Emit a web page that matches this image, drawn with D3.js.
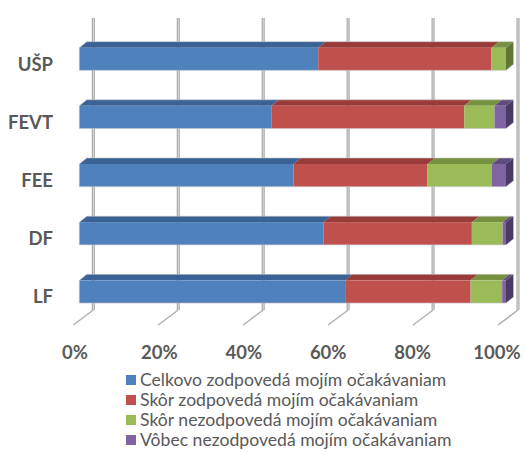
<!DOCTYPE html>
<html><head><meta charset="utf-8">
<script src="https://cdn.jsdelivr.net/npm/d3@7"></script>
<style>body{margin:0;background:#fff}svg{display:block}</style>
</head><body>
<svg id="c" width="525" height="453"></svg>
<script>
const categories = ["UŠP","FEVT","FEE","DF","LF"];
const seriesNames = ["Celkovo zodpovedá mojím očakávaniam","Skôr zodpovedá mojím očakávaniam","Skôr nezodpovedá mojím očakávaniam","Vôbec nezodpovedá mojím očakávaniam"];
const celkovo = [56, 45, 50.2, 57.2, 62.3];
const skorZod = [40.6, 45.2, 31.4, 34.8, 29.4];
const skorNez = [3.4, 7.1, 15.1, 7.2, 7.4];
const vobec  = [0, 2.7, 3.3, 0.8, 0.9];
const tickLabels = ["0%","20%","40%","60%","80%","100%"];
const tickValues = [0,20,40,60,80,100];

const front = ["#4f81bd","#c0504d","#9bbb59","#8064a2"];
const top_ = ["#3b6294","#983c3a","#76913f","#5f4a7e"];
const side = ["#2f5078","#7b2e2c","#5f7732","#4b3a66"];

const series = [celkovo, skorZod, skorNez, vobec];
const svg = d3.select("#c");

const xFront = d3.scaleLinear().domain([0,100]).range([79.3,506]);
const xBack = d3.scaleLinear().domain([0,100]).range([93.3,518]);
const xFloor = d3.scaleLinear().domain([0,100]).range([75,497]);
const y = d3.scaleBand().domain(categories).range([29.9,320.8]).paddingInner(0.61).paddingOuter(0.305);
const dx = 7.5, dy = 6;

// back gridlines (walls)
const grid = svg.append("g");
tickValues.forEach(v => {
  const x = xBack(v);
  grid.append("line").attr("x1",x).attr("x2",x).attr("y1",18).attr("y2",310)
    .attr("stroke","#a0a0a0").attr("stroke-width",3);
  grid.append("line").attr("x1",x).attr("x2",x).attr("y1",18).attr("y2",310)
    .attr("stroke","#e0e0e0").attr("stroke-width",1);
  grid.append("line").attr("x1",x).attr("x2",x-20).attr("y1",310).attr("y2",325)
    .attr("stroke","#b0b0b0").attr("stroke-width",1.5);
});

// bars
const stack = d3.stack().keys([0,1,2,3]).value((d,k)=>series[k][d])(d3.range(categories.length));
const bars = svg.append("g");
categories.forEach((cat,i) => {
  const y0 = y(cat), h = y.bandwidth();
  let lastK = 0;
  for (let k=0;k<4;k++) if (series[k][i] > 0) lastK = k;
  for (let k=0;k<4;k++) {
    const a = stack[k][i][0], b = stack[k][i][1];
    if (b - a <= 0) continue;
    const x0 = xFront(a), x1 = xFront(b);
    bars.append("path")
      .attr("d", `M${x0},${y0} L${x0+dx},${y0-dy} L${x1+dx},${y0-dy} L${x1},${y0} Z`)
      .attr("fill", top_[k]);
    bars.append("rect").attr("x",x0).attr("y",y0).attr("width",x1-x0).attr("height",h)
      .attr("fill", front[k]);
    if (k === lastK) {
      bars.append("path")
        .attr("d", `M${x1},${y0} L${x1+dx},${y0-dy} L${x1+dx},${y0+h-dy} L${x1},${y0+h} Z`)
        .attr("fill", side[k]);
    }
  }
  bars.append("path")
    .attr("d", `M${xFront(0)},${y0+h} L${xFront(0)},${y0} L${xFront(0)+dx},${y0-dy} L${xFront(100)+dx},${y0-dy} L${xFront(100)+dx},${y0+h-dy} L${xFront(100)},${y0+h} Z`)
    .attr("fill","none").attr("stroke","#c8c8c8").attr("stroke-width",0.7).attr("opacity",0.8);
});

// category labels
svg.append("g").selectAll("text").data(categories).join("text")
  .attr("x",53).attr("y",d=>y(d)+y.bandwidth()/2+5).attr("dy","0.36em")
  .attr("text-anchor","end")
  .attr("font-family","Lato, 'Open Sans', sans-serif").attr("font-weight","bold")
  .attr("font-size",18.5).attr("fill","#595959").text(d=>d);

// x tick labels
svg.append("g").selectAll("text").data(tickValues).join("text")
  .attr("x",d=>xFloor(d)).attr("y",359)
  .attr("text-anchor","middle")
  .attr("font-family","Lato, 'Open Sans', sans-serif").attr("font-weight","bold")
  .attr("font-size",18.5).attr("fill","#595959").text((d,i)=>tickLabels[i]);

// legend
const lg = svg.append("g");
seriesNames.forEach((n,k) => {
  const cy = 380 + k*20;
  lg.append("rect").attr("x",126).attr("y",cy-5).attr("width",10).attr("height",10).attr("fill",front[k]);
  lg.append("text").attr("x",140).attr("y",cy).attr("dy","0.35em")
    .attr("font-family","Lato, 'Open Sans', sans-serif").attr("font-size",17.6)
    .attr("fill","#595959").text(n);
});
</script>
</body></html>
